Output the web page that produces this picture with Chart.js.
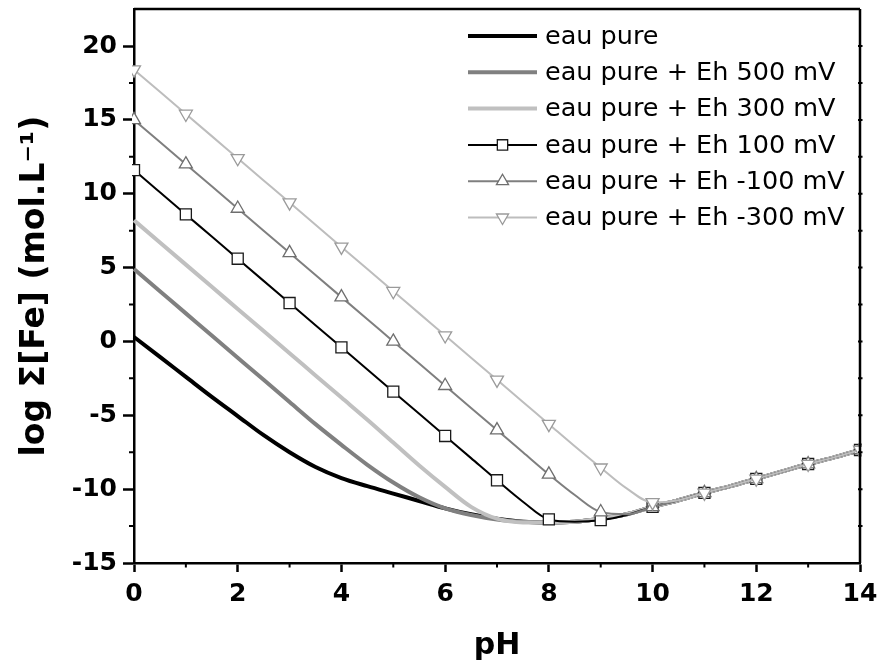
<!DOCTYPE html>
<html>
<head>
<meta charset="utf-8">
<script src="https://cdn.jsdelivr.net/npm/chart.js@4"></script>
<style>
  html, body { margin: 0; padding: 0; background: #fff; }
  #wrap { width: 879px; height: 667px; }
</style>
</head>
<body>
<div id="wrap"><canvas id="c" width="879" height="667"></canvas></div>
<script>
// ---- data ----
const pH = [0,0.5,1,1.5,2,2.5,3,3.5,4,4.5,5,5.5,6,6.5,7,7.5,8,8.5,9,9.5,10,10.5,11,11.5,12,12.5,13,13.5,14];

const labels = ['eau pure','eau pure + Eh 500 mV','eau pure + Eh 300 mV','eau pure + Eh 100 mV','eau pure + Eh -100 mV','eau pure + Eh -300 mV'];

const eauPure  = [0.3,-1.05,-2.4,-3.75,-5.05,-6.35,-7.5,-8.5,-9.25,-9.8,-10.3,-10.8,-11.3,-11.7,-12.0,-12.2,-12.25,-12.2,-12.0,-11.7,-11.2,-10.75,-10.25,-9.8,-9.3,-8.8,-8.3,-7.85,-7.35];
const eh500    = [4.9,3.4,1.9,0.4,-1.1,-2.6,-4.1,-5.6,-7.0,-8.35,-9.55,-10.55,-11.3,-11.75,-12.05,-12.2,-12.25,-12.2,-12.0,-11.7,-11.2,-10.75,-10.25,-9.8,-9.3,-8.8,-8.3,-7.85,-7.35];
const eh300    = [8.2,6.7,5.2,3.7,2.2,0.7,-0.8,-2.3,-3.8,-5.3,-6.85,-8.4,-9.85,-11.2,-12.0,-12.25,-12.25,-12.2,-12.0,-11.7,-11.2,-10.75,-10.25,-9.8,-9.3,-8.8,-8.3,-7.85,-7.35];
const eh100    = [11.6,10.1,8.6,7.1,5.6,4.1,2.6,1.1,-0.4,-1.9,-3.4,-4.9,-6.4,-7.9,-9.4,-10.85,-12.05,-12.2,-12.1,-11.75,-11.2,-10.75,-10.25,-9.8,-9.3,-8.8,-8.3,-7.85,-7.35];
const ehM100   = [15.0,13.5,12.0,10.5,9.0,7.5,6.0,4.5,3.0,1.5,0.0,-1.5,-3.0,-4.5,-6.0,-7.5,-9.0,-10.4,-11.55,-11.7,-11.2,-10.75,-10.25,-9.8,-9.3,-8.8,-8.3,-7.85,-7.35];
const ehM300   = [18.4,16.9,15.4,13.9,12.4,10.9,9.4,7.9,6.4,4.9,3.4,1.9,0.4,-1.1,-2.6,-4.1,-5.6,-7.1,-8.55,-9.95,-10.9,-10.75,-10.25,-9.8,-9.3,-8.8,-8.3,-7.85,-7.35];

const xTicksMajor = [0,2,4,6,8,10,12,14];
const yTicksMajor = [-15,-10,-5,0,5,10,15,20];

// ---- helpers ----
const pts = arr => arr.map((v, i) => ({x: pH[i], y: v}));
const markerRadius = ctx => (ctx.raw && Number.isInteger(ctx.raw.x)) ? 1 : 0;

function ds(label, data, color, width, marker, markerColor, rot, r) {
  return {
    label, data: pts(data),
    borderColor: color, borderWidth: width,
    backgroundColor: '#fff',
    pointStyle: marker || false,
    pointRotation: rot || 0,
    pointBorderColor: markerColor || color,
    pointBackgroundColor: '#fff',
    pointBorderWidth: 1.3,
    pointRadius: marker ? (c => markerRadius(c) * r) : 0,
    pointHoverRadius: marker ? (c => markerRadius(c) * r) : 0,
    cubicInterpolationMode: 'monotone',
    fill: false,
    clip: 2
  };
}

const datasets = [
  ds(labels[5], ehM300, '#bdbdbd', 2, 'triangle', '#9a9a9a', 180, 7.5),
  ds(labels[4], ehM100, '#7f7f7f', 2, 'triangle', '#6e6e6e', 0, 7.5),
  ds(labels[3], eh100, '#000000', 2, 'rect', '#1a1a1a', 0, 7.8),
  ds(labels[2], eh300, '#c0c0c0', 4),
  ds(labels[1], eh500, '#808080', 4),
  ds(labels[0], eauPure, '#000000', 4)
];

// ---- plugin: frame, minor ticks, legend ----
const extras = {
  id: 'extras',
  afterDraw(chart) {
    const {ctx, chartArea: a, scales: {x, y}} = chart;
    ctx.save();
    ctx.strokeStyle = '#000';
    ctx.lineWidth = 2.5;
    ctx.beginPath();
    ctx.moveTo(a.left, a.top); ctx.lineTo(a.right, a.top);
    ctx.moveTo(a.right, a.top); ctx.lineTo(a.right, a.bottom);
    ctx.stroke();
    ctx.lineWidth = 2;
    ctx.beginPath();
    for (let v = 1; v < 14; v += 2) {
      const px = x.getPixelForValue(v);
      ctx.moveTo(px, a.bottom); ctx.lineTo(px, a.bottom + 4.5);
    }
    for (let v = -12.5; v <= 20; v += 5) {
      const py = y.getPixelForValue(v);
      ctx.moveTo(a.left - 5, py); ctx.lineTo(a.left, py);
    }
    for (let v = -12.5; v <= 22; v += 2.5) {
      const py = y.getPixelForValue(v);
      ctx.moveTo(a.right - 2, py); ctx.lineTo(a.right + 2.5, py);
    }
    ctx.stroke();

    // legend
    const order = [5,4,3,2,1,0];
    const x0 = 468, x1 = 537, tx = 545, y0 = 36, dy = 36.3;
    ctx.font = '25.5px "DejaVu Sans"';
    ctx.textBaseline = 'middle';
    ctx.fillStyle = '#000';
    order.forEach((di, i) => {
      const d = chart.data.datasets[di];
      const yy = y0 + i * dy;
      ctx.strokeStyle = d.borderColor;
      ctx.lineWidth = d.borderWidth;
      ctx.beginPath(); ctx.moveTo(x0, yy); ctx.lineTo(x1, yy); ctx.stroke();
      if (d.pointStyle) {
        const r = d.pointStyle === 'rect' ? 7.3 : 7;
        ctx.fillStyle = '#fff';
        ctx.strokeStyle = d.pointBorderColor;
        ctx.lineWidth = 1.3;
        Chart.helpers.drawPoint(ctx, {pointStyle: d.pointStyle, rotation: d.pointRotation, radius: r, borderWidth: 1.3}, (x0 + x1) / 2, yy);
      }
      ctx.fillStyle = '#000';
      ctx.fillText(d.label, tx, yy + 1);
    });
    ctx.restore();
  }
};

new Chart(document.getElementById('c'), {
  type: 'line',
  data: { datasets },
  plugins: [extras],
  options: {
    responsive: false,
    animation: false,
    events: [],
    layout: { padding: { top: 7, right: 19, left: 0, bottom: 0 } },
    plugins: { legend: { display: false }, tooltip: { enabled: false } },
    scales: {
      x: {
        type: 'linear', min: 0, max: 14,
        afterBuildTicks: s => { s.ticks = xTicksMajor.map(v => ({value: v})); },
        afterFit: s => { s.height = 104; s.paddingLeft = 0; s.paddingRight = 0; },
        ticks: { color: '#000', font: { family: 'DejaVu Sans', weight: 'bold', size: 25 }, padding: 7, maxRotation: 0 },
        grid: { drawOnChartArea: false, tickLength: 9, tickWidth: 2.5, tickColor: '#000' },
        border: { color: '#000', width: 2.5 },
        title: { display: true, text: 'pH', color: '#000', font: { family: 'DejaVu Sans', weight: 'bold', size: 30 }, padding: { top: 0, bottom: 3 } }
      },
      y: {
        type: 'linear', min: -15, max: 22.5,
        afterBuildTicks: s => { s.ticks = yTicksMajor.map(v => ({value: v})); },
        afterFit: s => { s.width = 134; s.paddingTop = 0; s.paddingBottom = 0; },
        ticks: { color: '#000', font: { family: 'DejaVu Sans', weight: 'bold', size: 25 }, padding: 6 },
        grid: { drawOnChartArea: false, tickLength: 11, tickWidth: 2.5, tickColor: '#000' },
        border: { color: '#000', width: 2.5 },
        title: { display: true, text: 'log Σ[Fe] (mol.L⁻¹)', color: '#000', font: { family: 'DejaVu Sans', weight: 'bold', size: 33 }, padding: { top: 16, bottom: 0 } }
      }
    }
  }
});
</script>
</body>
</html>
